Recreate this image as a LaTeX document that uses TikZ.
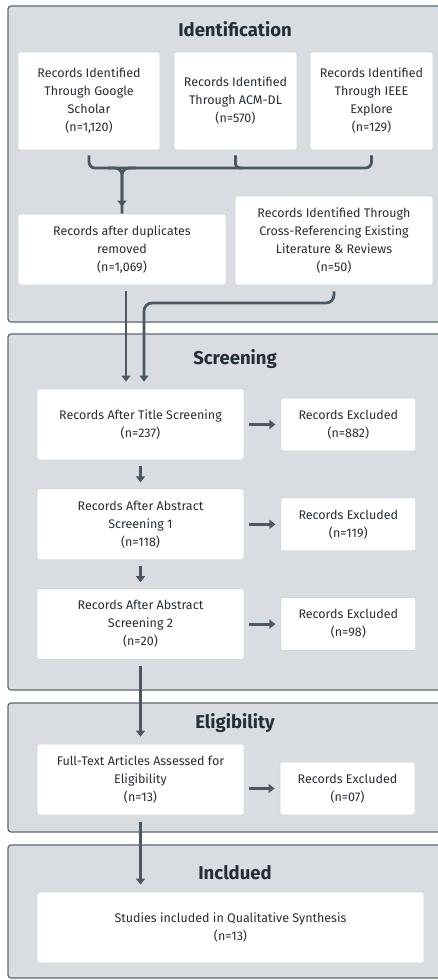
\documentclass[tikz,border=0pt]{standalone}
\usepackage{fontspec}
\setmainfont{Fira Sans}
\usepackage{tikz}
\usetikzlibrary{
  positioning,
  arrows.meta,
  calc
}
\definecolor{panelbg}{RGB}{217,221,225}
\definecolor{panelborder}{RGB}{92,104,115}
\definecolor{boxborder}{RGB}{206,214,222}
\definecolor{arrowcolor}{RGB}{74,88,102}
\definecolor{textcolor}{RGB}{40,46,54}
\definecolor{titlecolor}{RGB}{36,46,56}
\tikzset{
  phasepanel/.style={
    draw=panelborder, fill=panelbg, line width=1.2pt, rounded corners=3pt
  },
  phasetitle/.style={
    font=\fontsize{18.5}{22}\selectfont\bfseries, text=titlecolor, inner sep=0pt
  },
  procbox/.style={
    draw=boxborder, fill=white, line width=0.8pt, rounded corners=2pt,
    font=\fontsize{12.5}{18}\selectfont, text=textcolor, align=center,
    inner sep=0pt
  },
  exclbox/.style={
    procbox, minimum width=135pt, minimum height=53pt
  },
  bigarrow/.style={
    -{Triangle[width=9pt,length=6pt]}, line width=2.8pt, draw=arrowcolor
  },
  mergeline/.style={
    line width=2.8pt, draw=arrowcolor
  }
}
\begin{document}
\begin{tikzpicture}[x=1pt, y=-1pt]
    \useasboundingbox (0,0) rectangle (437,980);

    % Phase panels
    \draw[phasepanel] (8,6) rectangle (460,322);
    \draw[phasepanel] (8,334) rectangle (460,690);
    \draw[phasepanel] (8,703) rectangle (460,832);
    \draw[phasepanel] (8,845) rectangle (460,978);

    \node[phasetitle] (tident) at (235,29) {Identification};
    \node[phasetitle] (tscreen) at (235,359) {Screening};
    \node[phasetitle] (telig) at (235,723) {Eligibility};
    \node[phasetitle] (tincl) at (235,873) {Incldued};

    % Identification
    \node[procbox, minimum width=142pt, minimum height=98pt] (google) at (89,101) {Records Identified\\Through Google\\Scholar\\(n=1,120)};
    \node[procbox, minimum width=123pt, minimum height=98pt] (acm) at (235.5,101) {Records Identified\\Through ACM-DL\\(n=570)};
    \node[procbox, minimum width=123pt, minimum height=98pt] (ieee) at (371.5,101) {Records Identified\\Through IEEE\\Explore\\(n=129)};

    \node[procbox, minimum width=208pt, minimum height=71pt] (dup) at (122,249.5) {Records after duplicates\\removed\\(n=1,069)};
    \node[procbox, minimum width=198pt, minimum height=89pt] (cross) at (334,240.5) {Records Identified Through\\Cross-Referencing Existing\\Literature \& Reviews\\(n=50)};

    % Screening
    \node[procbox, minimum width=207pt, minimum height=71pt] (title) at (140.5,424.5) {Records After Title Screening\\(n=237)};
    \node[exclbox, right=36pt of title] (excla) {Records Excluded\\(n=882)};

    \node[procbox, minimum width=207pt, minimum height=71pt, below=28pt of title] (absa) {Records After Abstract\\Screening 1\\(n=118)};
    \node[exclbox, right=36pt of absa] (exclb) {Records Excluded\\(n=119)};

    \node[procbox, minimum width=207pt, minimum height=71pt, below=28pt of absa] (absb) {Records After Abstract\\Screening 2\\(n=20)};
    \node[exclbox, right=36pt of absb] (exclc) {Records Excluded\\(n=98)};

    % Eligibility and included
    \node[procbox, minimum width=207pt, minimum height=71pt] (full) at (140.5,779.5) {Full-Text Articles Assessed for\\Eligibility\\(n=13)};
    \node[exclbox] (excld) at (347.5,788.5) {Records Excluded\\(n=07)};

    \node[procbox, minimum width=387pt, minimum height=71pt] (incl) at (230.5,927.5) {Studies included in Qualitative Synthesis\\(n=13)};

    % Merge bracket
    \coordinate (mergey) at (0,168);
    \draw[mergeline, rounded corners=6pt] ([yshift=-5pt]google.south) |- (ieee.south |- mergey) -- ([yshift=-5pt]ieee.south);
    \draw[mergeline, rounded corners=4pt] ([yshift=-5pt]acm.south) -- (acm.south |- mergey) -- ([xshift=6pt]acm.south |- mergey);
    \draw[mergeline, rounded corners=7pt] ([xshift=14pt]dup.north |- mergey) -| (dup.north);
    \draw[bigarrow, rounded corners=7pt, shorten >=7pt] ([xshift=-14pt]dup.north |- mergey) -| (dup.north);

    % Into screening
    \coordinate (crossbend) at (144,303);
    \draw[bigarrow, shorten <=6pt, shorten >=7pt] ([xshift=4pt]dup.south) -- ([xshift=4pt]dup.south |- title.north);
    \draw[bigarrow, rounded corners=8pt, shorten <=6pt, shorten >=7pt] (cross.south) |- (crossbend) -- (crossbend |- title.north);

    % Screening arrows
    \draw[bigarrow, shorten <=5pt, shorten >=5pt] (title) -- (excla);
    \draw[bigarrow, shorten <=5pt, shorten >=5pt] (absa) -- (exclb);
    \draw[bigarrow, shorten <=5pt, shorten >=5pt] (absb) -- (exclc);
    \draw[bigarrow, shorten <=6pt, shorten >=6pt] (title) -- (absa);
    \draw[bigarrow, shorten <=6pt, shorten >=6pt] (absa) -- (absb);
    \draw[bigarrow, shorten <=6pt, shorten >=7pt] (absb) -- (full);

    % Eligibility arrows
    \draw[bigarrow, shorten <=5pt, shorten >=5pt] (full.east |- excld) -- (excld);
    \draw[bigarrow, shorten <=7pt, shorten >=7pt] (full.south) -- (full.south |- incl.north);

\end{tikzpicture}
\end{document}
